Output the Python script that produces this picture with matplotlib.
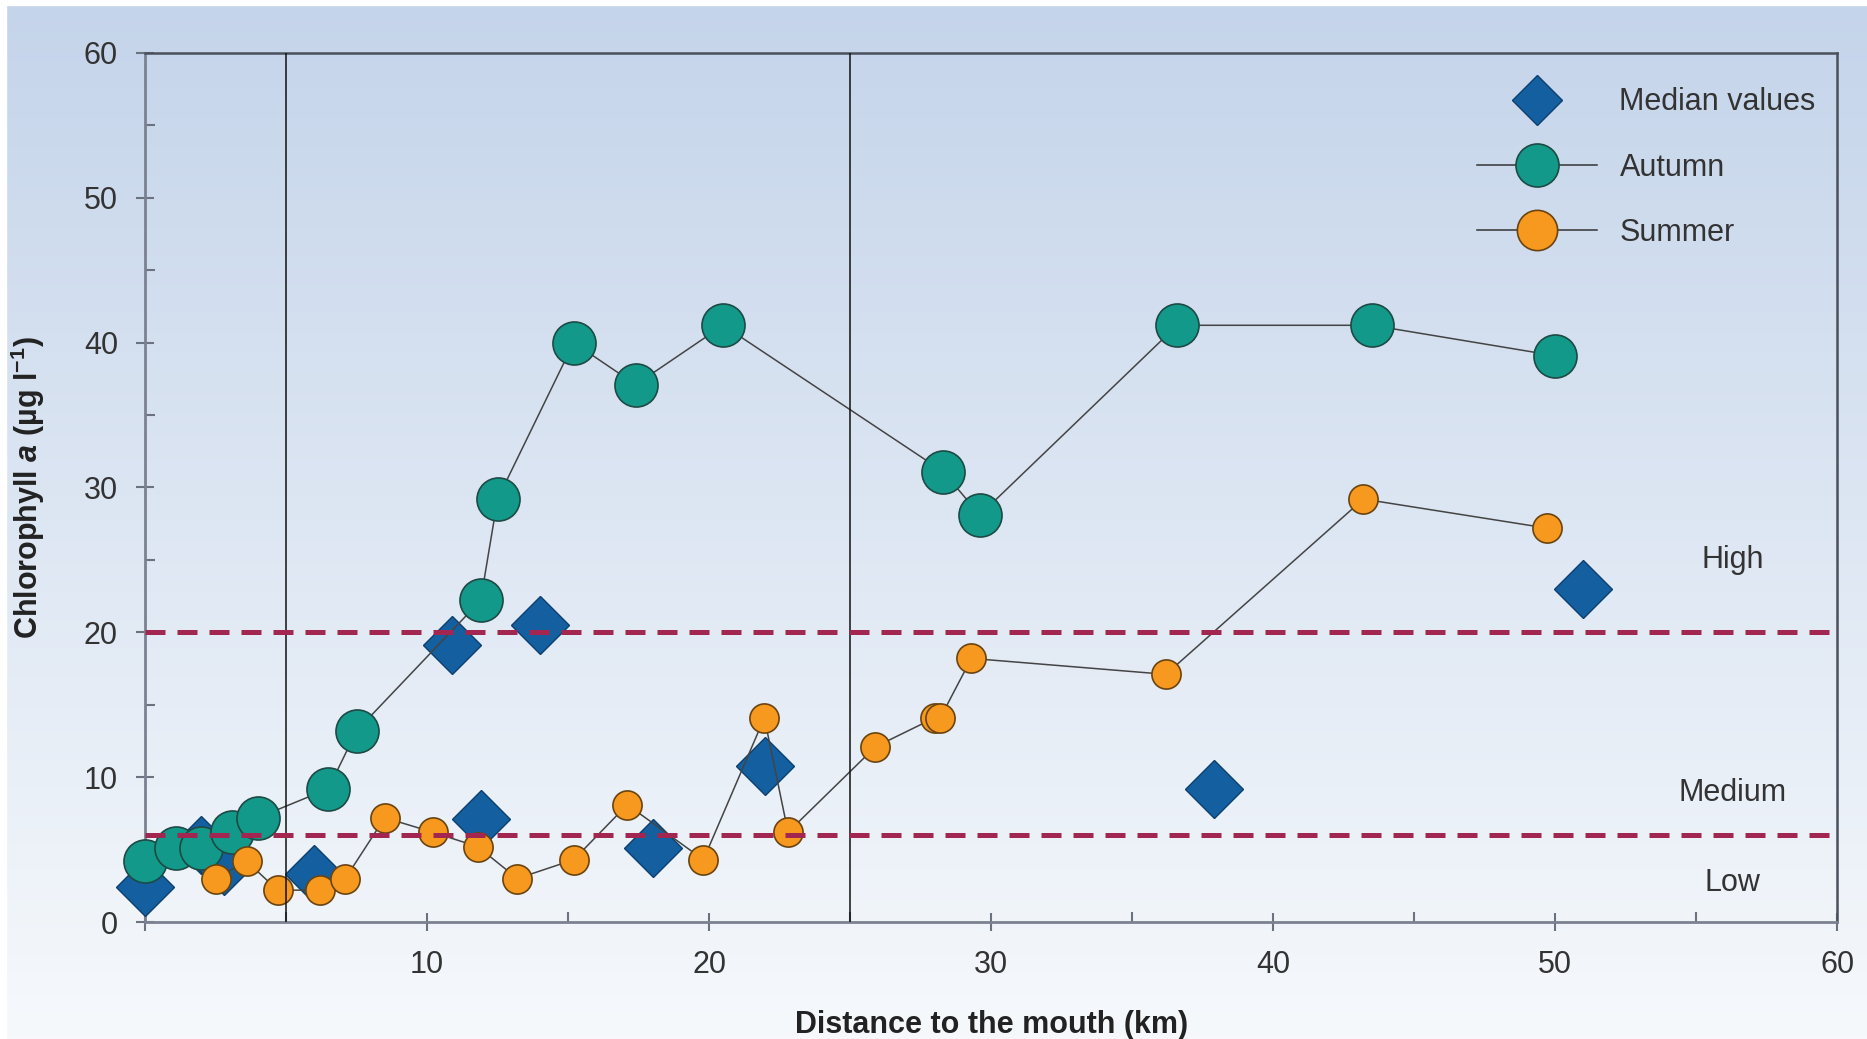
import numpy as np
import matplotlib
matplotlib.use("Agg")
import matplotlib.pyplot as plt
from matplotlib.lines import Line2D

plt.rcParams['font.family'] = ['Liberation Sans', 'DejaVu Sans']
plt.rcParams['mathtext.fontset'] = 'custom'
plt.rcParams['mathtext.rm'] = 'Liberation Sans:bold'
plt.rcParams['mathtext.it'] = 'Liberation Sans:bold:italic'
plt.rcParams['mathtext.bf'] = 'Liberation Sans:bold'

# autumn survey
autumn_km = [0, 1.1, 2.0, 3.1, 4.0, 6.5, 7.5, 11.9, 12.5, 15.2, 17.4, 20.5,
             28.3, 29.6, 36.6, 43.5, 50.0]
autumn_chl = [4.2, 5.1, 5.1, 6.2, 7.2, 9.2, 13.2, 22.2, 29.2, 40.0, 37.1, 41.2,
              31.1, 28.1, 41.2, 41.2, 39.1]

# summer survey
summer_km = [2.5, 3.6, 4.7, 6.2, 7.1, 8.5, 10.2, 11.8, 13.2, 15.2, 17.1, 19.8,
             21.96, 22.8, 25.9, 28.0, 28.2, 29.3, 36.2, 43.2, 49.7]
summer_chl = [3.0, 4.2, 2.2, 2.2, 3.0, 7.2, 6.2, 5.2, 3.0, 4.3, 8.1, 4.3,
              14.1, 6.2, 12.1, 14.1, 14.1, 18.2, 17.1, 29.2, 27.2]

# medians
median_km = [0, 2.0, 2.8, 6.0, 10.9, 11.9, 14.0, 18.0, 22.0, 37.9, 51.0]
median_chl = [2.4, 5.3, 3.9, 3.3, 19.1, 7.1, 20.5, 5.1, 10.8, 9.2, 23.0]

thresholds = [6, 20]
zones = [("High", 25.0), ("Medium", 8.9), ("Low", 2.7)]
zone_bounds = [5, 25]

teal = '#13998a'
orange = '#f7981f'
blue = '#135fa0'
maroon = '#a32650'
txt = '#333333'

fig = plt.figure(figsize=(18.67, 10.39), dpi=100)

# gradient background
bg = fig.add_axes([0, 0, 1, 1], zorder=-10)
grad = np.linspace(0, 1, 256).reshape(-1, 1)
top = np.array([0.769, 0.831, 0.918])
bot = np.array([0.965, 0.976, 0.988])
img = top[None, None, :] * (1 - grad[:, :, None]) + bot[None, None, :] * grad[:, :, None]
bg.imshow(img, aspect='auto', extent=[0, 1, 0, 1])
bg.set_xlim(0, 1)
bg.set_ylim(0, 1)
bg.axis('off')
# thin white margin top and left
bg.axhspan(1 - 5 / 1039, 1, color='white', zorder=5)
bg.axvspan(0, 6 / 1867, color='white', zorder=5)

ax = fig.add_axes([0.0777, 0.1126, 0.9063, 0.8364])
ax.set_facecolor('none')

ax.plot(median_km, median_chl, linestyle='none', marker='D', markersize=30,
        markerfacecolor=blue, markeredgecolor='#0d3f6e', markeredgewidth=1,
        zorder=3, clip_on=False)
ax.plot(autumn_km, autumn_chl, color='#444444', lw=1.1, marker='o', markersize=31,
        markerfacecolor=teal, markeredgecolor='#1d4a44', markeredgewidth=1.2,
        zorder=4, clip_on=False)
ax.plot(summer_km, summer_chl, color='#444444', lw=1.1, marker='o', markersize=21,
        markerfacecolor=orange, markeredgecolor='#6a4410', markeredgewidth=1.2,
        zorder=5, clip_on=False)

for t in thresholds:
    ax.axhline(t, color=maroon, lw=3.6, dashes=(4, 2.4), zorder=7)
for b in zone_bounds:
    ax.axvline(b, color='#111111', lw=1.1, zorder=6)

for name, yv in zones:
    ax.text(56.3, yv, name, ha='center', va='center', fontsize=22, color=txt)

ax.set_xlim(0, 60)
ax.set_ylim(0, 60)
ax.set_xticks(np.arange(0, 61, 10))
ax.set_xticklabels([''] + [str(v) for v in range(10, 61, 10)])
ax.set_yticks(np.arange(0, 61, 10))
ax.set_xticks(np.arange(5, 60, 10), minor=True)
ax.set_yticks(np.arange(5, 60, 10), minor=True)
ax.tick_params(which='major', direction='inout', length=13, width=1.5,
               color='#6b7280', labelsize=22, labelcolor=txt)
ax.tick_params(axis='x', which='major', pad=14)
ax.tick_params(axis='y', which='major', pad=13)
ax.tick_params(which='minor', direction='in', length=7, width=1.5, color='#6b7280')

for side in ['left', 'bottom']:
    ax.spines[side].set_color('#7b8190')
    ax.spines[side].set_linewidth(2)
for side in ['top', 'right']:
    ax.spines[side].set_color('#4a505c')
    ax.spines[side].set_linewidth(1.8)

ax.set_xlabel('Distance to the mouth (km)', fontsize=22, fontweight='bold', color='#222222')
ax.xaxis.set_label_coords(0.5, -0.101)
ax.set_ylabel(r'Chlorophyll $a$ (µg l$^{\mathrm{-1}}$)', fontsize=22,
              fontweight='bold', color='#222222')
ax.yaxis.set_label_coords(-0.058, 0.5)

handles = [
    Line2D([], [], linestyle='none', marker='D', markersize=25, markerfacecolor=blue,
           markeredgecolor='#0d3f6e', markeredgewidth=1),
    Line2D([], [], color='#333333', lw=1.1, marker='o', markersize=31,
           markerfacecolor=teal, markeredgecolor='#1d4a44', markeredgewidth=1.2),
    Line2D([], [], color='#333333', lw=1.1, marker='o', markersize=29,
           markerfacecolor=orange, markeredgecolor='#6a4410', markeredgewidth=1.2),
]
leg = ax.legend(handles, ['Median values', 'Autumn', 'Summer'], loc='upper right',
                bbox_to_anchor=(1.0, 0.985), frameon=False, fontsize=22,
                handlelength=3.9, labelspacing=1.15, handletextpad=0.75,
                borderaxespad=0.3)
for t in leg.get_texts():
    t.set_color(txt)

fig.savefig('out.png', dpi=100)
